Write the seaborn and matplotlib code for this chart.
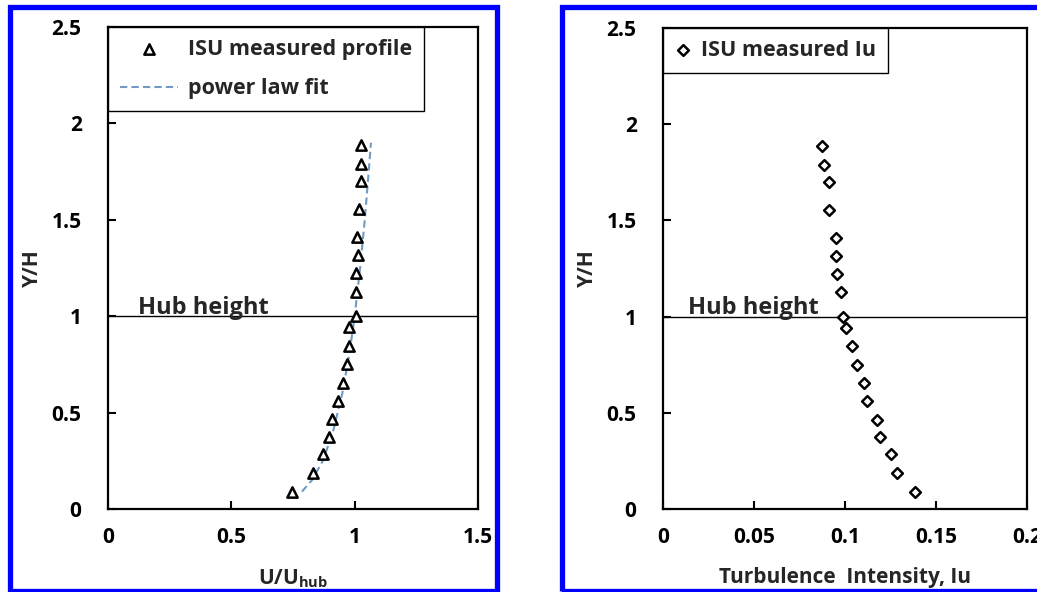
import matplotlib
matplotlib.use('Agg')
import matplotlib.pyplot as plt
import seaborn as sns
import numpy as np
from matplotlib.patches import Rectangle
from matplotlib.ticker import FuncFormatter

# Datos
y_h = [0.09, 0.185, 0.284, 0.375, 0.465, 0.56, 0.655, 0.75, 0.845, 0.942,
       1.0, 1.126, 1.224, 1.317, 1.41, 1.556, 1.70, 1.79, 1.888]
u_ratio = [0.747, 0.832, 0.870, 0.897, 0.907, 0.934, 0.954, 0.967, 0.977, 0.977,
           1.004, 1.004, 1.004, 1.015, 1.008, 1.019, 1.026, 1.026, 1.026]
iu = [0.1385, 0.1284, 0.1251, 0.1192, 0.1174, 0.1123, 0.1106, 0.1064, 0.104, 0.1005,
      0.0991, 0.0976, 0.0958, 0.0951, 0.0951, 0.0914, 0.0914, 0.0887, 0.0872]

# curva de ajuste (power law)
fit_y = [0.09, 0.15, 0.25, 0.4, 0.6, 0.8, 1.0, 1.25, 1.5, 1.75, 1.9]
fit_u = [0.786, 0.827, 0.871, 0.912, 0.95, 0.978, 1.0, 1.022, 1.041, 1.057, 1.066]

xticks_u = [0, 0.5, 1, 1.5]
xticks_iu = [0, 0.05, 0.1, 0.15, 0.2]
yticks = [0, 0.5, 1, 1.5, 2, 2.5]

sns.set_style('ticks')
plt.rcParams['font.family'] = ['Open Sans', 'DejaVu Sans']
plt.rcParams['font.weight'] = 'bold'
plt.rcParams['mathtext.fontset'] = 'custom'
plt.rcParams['mathtext.rm'] = 'Open Sans:bold'

W, H = 1037, 592
fig = plt.figure(figsize=(W / 100, H / 100), dpi=100)

def px_axes(x0, x1, y0, y1):
    return fig.add_axes([x0 / W, 1 - y1 / H, (x1 - x0) / W, (y1 - y0) / H])

ax1 = px_axes(108, 478, 27, 509)
ax2 = px_axes(663, 1027, 28, 509)

fmt = FuncFormatter(lambda v, p: '%g' % v)

def style(ax, xticks, xlim):
    ax.set_xlim(xlim)
    ax.set_ylim(0, 2.5)
    ax.set_xticks(xticks)
    ax.set_yticks(yticks)
    ax.xaxis.set_major_formatter(fmt)
    ax.yaxis.set_major_formatter(fmt)
    for s in ax.spines.values():
        s.set_linewidth(1.6)
        s.set_color('black')
    ax.tick_params(direction='in', length=6, width=1.5, labelsize=15, colors='black')
    ax.tick_params(axis='x', pad=13)
    ax.tick_params(axis='y', pad=19)
    ax.axhline(1.0, color='black', lw=1.0, zorder=1)
    ax.set_ylabel('Y/H', fontsize=15, fontweight='bold', labelpad=6)

# Panel izquierdo: perfil de velocidad
sns.scatterplot(x=u_ratio, y=y_h, ax=ax1, marker='^', s=55, facecolor='white',
                edgecolor='black', linewidth=1.8, label='ISU measured profile', zorder=3)
sns.lineplot(x=fit_u, y=fit_y, ax=ax1, sort=False, estimator=None, color='#7199c4',
             lw=1.5, dashes=(3.5, 2), label='power law fit', zorder=2)
style(ax1, xticks_u, (0, 1.5))
ax1.text(0.12, 1.012, 'Hub height', fontsize=17, fontweight='bold', va='baseline')
ax1.set_xlabel('U/U$_\\mathregular{hub}$', fontsize=15, fontweight='bold', labelpad=14)
leg = ax1.legend(loc='upper left', bbox_to_anchor=(0, 1), borderaxespad=0, fontsize=15.5,
                 handlelength=2.7, handletextpad=0.45, labelspacing=0.85, borderpad=0.55,
                 fancybox=False, framealpha=1, edgecolor='black')
leg.get_frame().set_linewidth(1.0)

# Panel derecho: intensidad de turbulencia
sns.scatterplot(x=iu, y=y_h, ax=ax2, marker='D', s=30, facecolor='white',
                edgecolor='black', linewidth=1.8, label='ISU measured Iu', zorder=3)
style(ax2, xticks_iu, (0, 0.2))
ax2.text(0.0137, 1.012, 'Hub height', fontsize=17, fontweight='bold', va='baseline')
ax2.set_xlabel('Turbulence  Intensity, Iu', fontsize=15, fontweight='bold', labelpad=14)
leg2 = ax2.legend(loc='upper left', bbox_to_anchor=(0, 1), borderaxespad=0, fontsize=15.5,
                  handlelength=0.8, handletextpad=0.4, borderpad=0.55,
                  fancybox=False, framealpha=1, edgecolor='black')
leg2.get_frame().set_linewidth(1.0)

# Bordes azules
for x0, x1 in [(9.5, 496.5), (561.5, 1045)]:
    fig.patches.append(Rectangle((x0 / W, 1 - 591 / H), (x1 - x0) / W, (591 - 6.5) / H,
                                 transform=fig.transFigure, fill=False,
                                 edgecolor='#0000ff', lw=3.8, zorder=5))

fig.savefig('out.png', dpi=100)
